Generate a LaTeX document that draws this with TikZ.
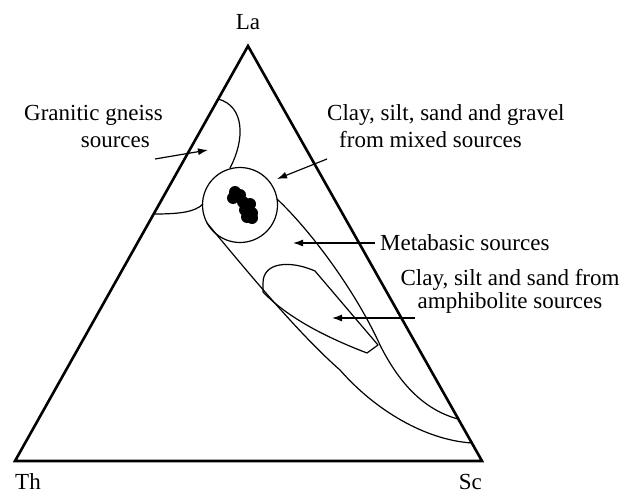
\documentclass[tikz,border=0pt]{standalone}
\usepackage{fontspec}
\setmainfont{Liberation Serif}
\usetikzlibrary{arrows.meta}

\begin{document}
\begin{tikzpicture}[x=1pt,y=-1pt]
    \tikzstyle{every node}=[inner sep=0pt,font=\fontsize{23pt}{27pt}\selectfont]
    \tikzstyle{edge}=[line width=2.6pt,line join=miter]
    \tikzstyle{field}=[line width=1.2pt]
    \tikzstyle{pointer}=[line width=1.2pt,-{Latex[length=10pt,width=7pt]}]
    \tikzstyle{dot}=[fill=black]
    \useasboundingbox (0,0) rectangle (629,495);
    % triangle corners
    \coordinate (La) at (248,46);
    \coordinate (Th) at (15,461);
    \coordinate (Sc) at (482,461);
    \draw[edge] (Th) -- (La) -- (Sc) -- cycle;
    \node[anchor=base] (laname) at (248,30) {La};
    \node[anchor=base west] (thname) at (15,489) {Th};
    \node[anchor=base east] (scname) at (482,489) {Sc};
    % fields
    \draw[field] (240,205) circle (37.5);
    \draw[field] (218,99) .. controls (245,106) and (245,140) .. (230,168);
    \draw[field] (154,214) .. controls (180,214) and (195,212) .. (203,204);
    \draw[field] (277,199) .. controls (310,230) and (355,290) .. (380,345)
        .. controls (400,385) and (425,410) .. (458,419);
    \draw[field] (207,223) .. controls (250,275) and (300,335) .. (340,370)
        .. controls (375,410) and (425,440) .. (472,443);
    \draw[field,line join=round] (263,292) -- (263,283) .. controls (263,262) and (290,260) .. (315,271)
        -- (378,345) -- (367,353) .. controls (320,335) and (285,315) .. (263,292);
    % samples
    \foreach \x/\y in {235/192,233/198,240/195,243/202,250/204,245/210,252/213,252/218,247/217}
        \fill[dot] (\x,\y) circle (6);
    % labels
    \node[anchor=base east,align=right] (granitic) at (163,147) {Granitic gneiss\\sources\hspace*{13pt}};
    \node[anchor=base west,align=left] (mixed) at (327,147) {Clay, silt, sand and gravel\\\hspace*{12pt}from mixed sources};
    \node[anchor=base west] (metabasic) at (380,250) {Metabasic sources};
    \node[anchor=base,align=center] (amph) at (510,308) {Clay, silt and sand from\\[-4pt]amphibolite sources};
    \coordinate (granitictip) at (208,150);
    \coordinate (mixedtip) at (277,179);
    \coordinate (metabasictip) at (293,243);
    \coordinate (amphtip) at (332,318);
    \draw[pointer] (155,159) -- (granitictip);
    \draw[pointer] (327,159) -- (mixedtip);
    \draw[pointer] (375,243) -- (metabasictip);
    \draw[pointer] (415,318) -- (amphtip);
\end{tikzpicture}
\end{document}
